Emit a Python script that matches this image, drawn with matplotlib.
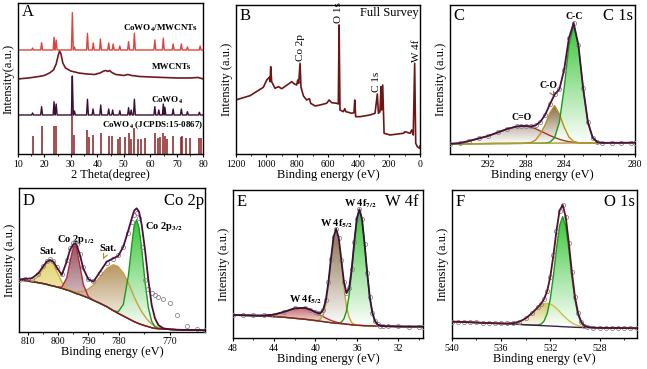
import numpy as np
import matplotlib
matplotlib.use('Agg')
import matplotlib.pyplot as plt
from matplotlib.colors import LinearSegmentedColormap
from matplotlib.path import Path

plt.rcParams['font.family'] = ['Liberation Serif', 'DejaVu Serif']
plt.rcParams['mathtext.fontset'] = 'stix'

# ---------------- A: XRD ----------------
a_cm_base = 104
a_cm_pos = [15.6, 19.0, 23.7, 24.5, 30.6, 31.4, 36.3, 38.5, 41.2, 44.3, 46.0, 48.5, 51.8, 54.0, 61.7, 64.9, 68.6, 71.7, 74.0, 78.8]
a_cm_int = [106, 111.3, 116.7, 114, 141.3, 107, 120.7, 111, 115, 111, 110, 108, 112.3, 120.7, 114, 115.7, 110, 110, 107, 108]

a_mw_x = [10, 14, 18, 20, 22, 23.5, 24.5, 25.3, 25.8, 26.3, 27, 28, 30, 33, 36, 39, 41, 42.5, 43.2, 44, 44.6, 45.5, 47, 50, 51.5, 53, 56, 60, 65, 70, 75, 78, 80]
a_mw_y = [75, 76, 77.5, 78.5, 81, 84, 90, 99, 103, 100, 91, 86, 83, 81, 80, 79.5, 81, 83, 83.5, 82.5, 83.5, 81.5, 79.5, 78.5, 79.5, 78.5, 77.5, 77, 76.5, 76, 76, 76.5, 75]

a_cw_base = 39
a_cw_pos = [15.6, 19.0, 23.7, 24.5, 30.6, 31.4, 36.3, 38.4, 41.3, 44.3, 45.8, 48.5, 51.8, 52.8, 54.0, 61.7, 63.2, 64.9, 65.5, 68.6, 71.7, 74.0, 78.5]
a_cw_int = [41, 47.3, 52.3, 50, 78, 43, 54.7, 45, 49, 45, 44, 43.3, 46.3, 44, 54.7, 47.3, 44, 50, 46.7, 45, 45, 42.3, 41.7]

a_ref_pos = [15.6, 19.0, 23.8, 24.6, 30.6, 31.4, 36.3, 36.8, 38.4, 41.3, 44.3, 45.7, 48.0, 48.7, 50.3, 51.9, 52.6,
             53.9, 55.2, 56.3, 58.1, 61.7, 63.0, 63.7, 64.9, 65.4, 66.2, 68.6, 71.6, 72.0, 73.5, 74.8, 78.5, 79.3]
a_ref_int = [18, 28, 28, 28, 78, 19, 24, 17, 19, 21, 18, 18, 15, 17, 17, 21, 15,
             26, 15, 15, 16, 21, 16, 17, 21, 18, 15, 18, 17, 18, 16, 16, 16, 16]

# ---------------- B: survey ----------------
b_ev = [1200, 1107, 1020, 998, 981, 976, 972, 966, 944, 922, 900, 868, 835, 818, 803, 796, 790, 781, 775, 759,
        738, 720, 712, 683, 651, 608, 592, 575, 542, 532, 527, 521, 499, 490, 482, 445, 430, 425, 419, 391,
        326, 293, 278, 271, 261, 254, 250, 243, 234, 195, 108, 98, 65, 54, 44, 35, 28, 18, 2, 0]
b_int = [54, 58.3, 66.7, 74, 76.7, 72.3, 87.3, 72.3, 65.7, 67.3, 65.3, 68.7, 72.3, 70, 69, 74, 70.7, 90.7, 66.7, 58,
         54, 55.3, 50.7, 48, 49, 50.7, 54, 51.3, 50.7, 50, 129, 44, 42.3, 45.3, 42.3, 40.7, 41.3, 54, 37.3, 37.3,
         39, 40.7, 60, 40.7, 42.3, 67.3, 44, 69, 20.7, 19, 20.7, 22.3, 20.7, 24, 19, 90.7, 10.7, 7.3, 5.7, 8]

# ---------------- C: C 1s ----------------
c_ev = [296, 295, 294, 293, 292, 291, 290, 289, 288.5, 288, 287.5, 287, 286.5, 286, 285.5, 285, 284.5, 284,
        283.5, 283, 282.5, 282, 281.5, 281, 280.5, 280, 279, 278, 277, 276.6]
c_bg = [10.0, 10.1, 10.2, 10.3, 10.4, 10.5, 10.5, 10.6, 10.6, 10.7, 10.7, 10.7, 10.8, 10.8, 10.8, 10.9, 10.9, 10.9,
        11.0, 11.0, 11.0, 11.0, 11.1, 11.1, 11.1, 11.1, 11.2, 11.2, 11.3, 11.3]
c_dbl = [0.2, 0.7, 2.8, 5.2, 7.6, 11.0, 14.5, 16.9, 17.4, 17.1, 16.1, 14.6, 12.2, 10.0, 7.7, 5.6, 3.8, 2.4,
         1.3, 0.6, 0.2, 0, 0, 0, 0, 0, 0, 0, 0, 0]
c_sgl = [0, 0, 0, 0, 0, 0, 0, 0, 0, 0.2, 0.8, 3.3, 9.2, 18.2, 30.2, 37.6, 29.1, 16.1,
         6.0, 1.5, 0.3, 0, 0, 0, 0, 0, 0, 0, 0, 0]
c_cc = [0, 0, 0, 0, 0, 0, 0, 0, 0, 0, 0, 0, 0, 0.1, 1.0, 5.4, 20.9, 54.7,
        97.3, 118.0, 97.3, 54.6, 20.7, 5.2, 0.7, 0, 0, 0, 0, 0]

# ---------------- D: Co 2p ----------------
d_ev = [813.0, 811.0, 808.8, 806.6, 804.9, 803.8, 802.7, 801.6, 800.5, 798.8, 797.2, 796.1, 795.0, 794.4, 793.9,
        792.8, 791.7, 790.0, 788.3, 786.1, 783.9, 781.7, 780.1, 778.4, 776.7, 775.6, 774.8, 774.0, 773.2, 772.3,
        771.2, 770.1, 769.0, 767.9, 766.8, 765.1, 762.9, 760.7, 757.4, 754.1, 751.3]
d_bg = [51.7, 51.0, 50.0, 49.0, 48.0, 47.3, 46.3, 45.7, 44.7, 43.3, 41.7, 40.7, 39.3, 38.7, 38.0,
        37.0, 35.7, 33.7, 31.3, 28.3, 25.0, 21.0, 18.3, 15.7, 13.0, 11.3, 10.0, 9.0, 8.0, 7.0,
        6.0, 5.0, 4.0, 3.3, 3.0, 2.7, 2.3, 2.0, 1.7, 1.7, 1.3]
d_sat1 = [0, 0, 0.8, 6.3, 15.6, 21.8, 24.4, 21.8, 15.6, 6.3, 1.5, 0.4, 0, 0, 0,
          0, 0, 0, 0, 0, 0, 0, 0, 0, 0, 0, 0, 0, 0, 0,
          0, 0, 0, 0, 0, 0, 0, 0, 0, 0, 0]
d_p12 = [0, 0, 0, 0, 0, 0, 0, 0, 0, 1.3, 11.7, 28.9, 45.4, 48.0, 45.4,
         28.9, 11.7, 1.3, 0, 0, 0, 0, 0, 0, 0, 0, 0, 0, 0, 0,
         0, 0, 0, 0, 0, 0, 0, 0, 0, 0, 0]
d_sat2 = [0, 0, 0, 0, 0, 0, 0, 0, 0, 0, 0.2, 0.5, 0.9, 1.1, 1.7,
          2.9, 4.7, 9.0, 15.3, 26.5, 38.2, 45.9, 46.7, 42.9, 35.5, 29.5, 24.7, 20.6, 16.8, 12.9,
          9.0, 5.9, 3.7, 2.3, 1.3, 0.5, 0.1, 0, 0, 0, 0]
d_p32 = [0, 0, 0, 0, 0, 0, 0, 0, 0, 0, 0, 0, 0, 0, 0,
         0, 0, 0, 0, 0, 0, 0, 1.6, 11.5, 43.6, 75.5, 96.0, 102.7, 96.0, 75.5,
         43.6, 19.1, 6.4, 1.6, 0.3, 0, 0, 0, 0, 0, 0]
d_fit = [52.3, 52.7, 53.3, 58.3, 65.7, 70.0, 71.7, 70.0, 64.3, 56.7, 70.0, 81.7, 87.3, 88.3, 86.7,
         76.7, 63.3, 52.3, 50.0, 60.0, 70.0, 73.3, 75.7, 85.0, 101.7, 113.3, 121.0, 123.3, 120.0, 106.7,
         81.7, 51.7, 26.7, 13.3, 6.7, 3.3, 2.3, 2.0, 1.7, 1.7, 1.3]
d_meas = [51.7, 52.3, 53.0, 57.7, 65.7, 70.7, 72.3, 70.3, 64.3, 57.7, 71.7, 83.3, 89.0, 89.7, 87.7,
          77.7, 64.3, 53.0, 51.0, 58.3, 69.0, 72.3, 76.7, 85.0, 98.3, 110.0, 116.7, 118.3, 113.3, 85.0,
          51.7, 42.3, 39.0, 36.7, 34.3, 32.3, 29.0, 16.7, 5.7, 2.7, 1.7]

# ---------------- E: W 4f ----------------
e_ev = [48, 47, 46, 45, 44, 43, 42, 41, 40.5, 40, 39.75, 39.5, 39.25, 39, 38.75, 38.5, 38.25, 38, 37.75, 37.5,
        37.25, 37, 36.75, 36.5, 36.25, 36, 35.75, 35.5, 35.25, 35, 34.75, 34.5, 34.25, 34, 33.75, 33.5,
        33, 32, 31, 30, 29.6]
e_bg = [23.3, 23.0, 22.7, 22.3, 21.7, 21.0, 20.0, 19.0, 18.4, 17.7, 17.4, 17.0, 16.7, 16.3, 16.0, 15.6, 15.3, 15.0,
        14.8, 14.5, 14.3, 14.0, 13.8, 13.5, 13.3, 13.0, 12.9, 12.8, 12.6, 12.5, 12.4, 12.4, 12.3, 12.2, 12.2, 12.1,
        12.0, 11.8, 11.7, 11.7, 11.7]
e_broad = [0, 0, 0.1, 0.5, 2.0, 5.6, 10.0, 11.4, 10.3, 8.4, 7.2, 6.0, 4.9, 3.9, 3.0, 2.3, 1.7, 1.2, 0.8, 0.5,
           0.35, 0.2, 0.1, 0, 0, 0, 0, 0, 0, 0, 0, 0, 0, 0, 0, 0, 0, 0, 0, 0, 0]
e_f52 = [0, 0, 0, 0, 0, 0, 0, 0, 0, 0.1, 0.6, 2.2, 7.1, 17.8, 36.9, 61.8, 84.2, 93.3, 84.2, 61.8,
         36.9, 17.8, 7.1, 2.2, 0.6, 0.1, 0, 0, 0, 0, 0, 0, 0, 0, 0, 0, 0, 0, 0, 0, 0]
e_f72 = [0, 0, 0, 0, 0, 0, 0, 0, 0, 0, 0, 0, 0, 0, 0, 0, 0, 0, 0.5, 1.6,
         5.1, 13.2, 28.9, 53.1, 82.0, 106.4, 116.0, 106.4, 82.0, 53.1, 28.9, 13.2, 5.1, 1.6, 0.5, 0.1,
         0, 0, 0, 0, 0]

# ---------------- F: O 1s ----------------
f_ev = [540, 539.5, 539, 538.5, 538, 537.5, 537, 536.5, 536, 535.5, 535, 534.5, 534, 533.5,
        533, 532.75, 532.5, 532.25, 532, 531.75, 531.5, 531.25, 531, 530.75, 530.5, 530.25, 530, 529.75, 529.5,
        529.25, 529, 528.5, 528, 527.5, 527, 526.5, 526, 525.5, 525]
f_bg = [16.7, 16.5, 16.3, 16.0, 15.8, 15.5, 15.3, 15.0, 14.8, 14.5, 14.2, 13.9, 13.5, 13.2,
        12.9, 12.7, 12.6, 12.4, 12.3, 12.1, 12.0, 11.8, 11.6, 11.5, 11.3, 11.2, 11.0, 10.9, 10.8,
        10.7, 10.7, 10.6, 10.5, 10.4, 10.3, 10.3, 10.2, 10.1, 10.0]
f_hyd = [0, 0, 0, 0, 0, 0, 0, 0, 0.1, 0.3, 1.0, 2.8, 6.4, 11.8,
         17.9, 20.4, 22.0, 22.6, 22.0, 20.4, 17.9, 15.0, 11.8, 8.9, 6.4, 4.3, 2.8, 1.7, 1.0,
         0.5, 0.3, 0.1, 0, 0, 0, 0, 0, 0, 0]
f_lat = [0, 0, 0, 0, 0, 0, 0, 0, 0, 0, 0, 0, 0, 0,
         0.4, 1.5, 4.8, 12.5, 27.4, 50.4, 77.8, 100.9, 110.0, 100.9, 77.8, 50.4, 27.4, 12.5, 4.8,
         1.5, 0.4, 0, 0, 0, 0, 0, 0, 0, 0]

GREEN_L, GREEN_F = '#1a9a1a', '#22c022'


def grad_fill(ax, x, lo, hi, color, z=1):
    x = np.asarray(x, float)
    verts = np.vstack([np.column_stack([x, hi]), np.column_stack([x[::-1], lo[::-1]])])
    cmap = LinearSegmentedColormap.from_list('g', ['white', color])
    im = ax.imshow(np.linspace(0, 1, 128).reshape(-1, 1), cmap=cmap, origin='lower', aspect='auto',
                   extent=[x.min(), x.max(), lo.min(), hi.max()], zorder=z, alpha=0.9)
    im.set_clip_path(Path(verts), ax.transData)


def xps(ax, ev, bg, comps, bgcol, fitcol, fit=None, meas=None):
    bg = np.asarray(bg, float)
    total = bg.copy()
    for i, (h, lc, fc) in enumerate(comps):
        top = bg + np.asarray(h, float)
        total = total + np.asarray(h, float)
        grad_fill(ax, ev, bg, top, fc, z=1 + i * 0.1)
        ax.plot(ev, top, color=lc, lw=1.0, zorder=3)
    ax.plot(ev, bg, color=bgcol, lw=1.0, zorder=3)
    if fit is None:
        fit = total
    if meas is None:
        meas = fit
    ax.plot(ev, meas, 'o', mfc='none', mec='#8a8a8a', ms=3, mew=0.6, zorder=4)
    ax.plot(ev, fit, color=fitcol, lw=1.3, zorder=5)


def style(ax, xlim, ylim, ticks, labels=None, minor=None, xlabel='Binding energy (eV)',
          ylabel='Intensity (a.u.)'):
    ax.set_xlim(*xlim)
    ax.set_ylim(*ylim)
    ax.set_yticks([])
    ax.set_xticks(ticks)
    if labels is not None:
        ax.set_xticklabels(labels)
    if minor is not None:
        ax.set_xticks(minor, minor=True)
    ax.tick_params(axis='x', which='major', direction='out', length=2.5, width=0.8, labelsize=7, pad=1.5)
    ax.tick_params(axis='x', which='minor', direction='out', length=1.5, width=0.6)
    for s in ax.spines.values():
        s.set_linewidth(1.0)
    ax.set_xlabel(xlabel, fontsize=9, labelpad=0)
    ax.set_ylabel(ylabel, fontsize=9, labelpad=2)


def spikes(base, pos, inten, w=0.35):
    xs, ys = [10], [base]
    for p, t in zip(pos, inten):
        xs += [p - w, p, p + w]
        ys += [base, t, base]
    xs.append(80)
    ys.append(base)
    return xs, ys


fig = plt.figure(figsize=(6.47, 3.69), dpi=100)
axA = fig.add_axes([0.0274, 0.5827, 0.2869, 0.4092])
axB = fig.add_axes([0.3643, 0.5827, 0.2849, 0.4038])
axC = fig.add_axes([0.6955, 0.5827, 0.2852, 0.4038])
axD = fig.add_axes([0.0294, 0.1011, 0.2875, 0.3886])
axE = fig.add_axes([0.3597, 0.0832, 0.2941, 0.4019])
axF = fig.add_axes([0.6981, 0.0832, 0.2859, 0.4019])

bold = dict(fontsize=6.5, fontweight='bold')

# A
axA.vlines(a_ref_pos, 0, a_ref_int, color='#8a1e22', lw=1.1)
x, y = spikes(a_cw_base, a_cw_pos, a_cw_int)
axA.plot(x, y, color='#3a0f32', lw=1.0)
axA.plot(a_mw_x, a_mw_y, color='#6e1a1e', lw=1.2)
x, y = spikes(a_cm_base, a_cm_pos, a_cm_int)
axA.plot(x, y, color='#dc4440', lw=1.0)
axA.text(78.0, 126, r'CoWO$_\mathbf{4}$/MWCNTs', ha='right', va='center', **bold)
axA.text(67.8, 87, 'MWCNTs', ha='center', va='center', **bold)
axA.text(66.3, 54, r'CoWO$_\mathbf{4}$', ha='center', va='center', **bold)
axA.text(79.9, 29, r'CoWO$_\mathbf{4}$ (JCPDS:15-0867)', ha='right', va='center', **bold)
style(axA, (10, 80), (0, 151), list(range(10, 81, 10)), minor=list(range(15, 80, 10)),
      xlabel='2 Theta(degree)', ylabel='Intensity(a.u.)')

# B
axB.plot(b_ev, b_int, color='#6e1616', lw=1.2)
for lab, xx, yy in [('Co 2p', 781, 93), ('O 1s', 532, 131), ('C 1s', 282, 62), ('W 4f', 26, 92)]:
    axB.text(xx, yy, lab, rotation=90, ha='center', va='bottom', fontsize=8)
axB.text(0.995, 0.985, 'Full Survey', transform=axB.transAxes, ha='right', va='top', fontsize=9)
style(axB, (1200, 0), (0, 149), list(range(1200, -1, -200)), minor=list(range(1100, 0, -200)))

# C
xps(axC, c_ev, c_bg, [(c_dbl, '#9c3a2c', '#b8ab98'), (c_sgl, '#b8901a', '#7a5a36'), (c_cc, GREEN_L, GREEN_F)],
    '#b09a30', '#4a1040')
axC.text(282.9, 137, 'C-C', ha='center', va='center', fontsize=7, fontweight='bold')
axC.annotate('C-O', xy=(284.9, 55), xytext=(285.65, 68), ha='center', va='center', fontsize=7,
             fontweight='bold', arrowprops=dict(arrowstyle='->', color='#a0602a', lw=0.8))
axC.text(288.45, 36, 'C=O', ha='center', va='center', fontsize=7, fontweight='bold')
style(axC, (296, 276.6), (0, 149), [292, 288, 284, 276.6], ['292', '288', '284', '280'],
      minor=[294, 290, 286, 282, 280.2, 278.3])

# D
xps(axD, d_ev, d_bg, [(d_sat2, '#c8a040', '#b08a50'), (d_sat1, '#d0b030', '#e0d060'),
                      (d_p12, '#b02a3a', '#8a4050'), (d_p32, GREEN_L, GREEN_F)],
    '#7a1c2a', '#4e0e3a', fit=d_fit, meas=d_meas)
axD.text(803.3, 80, 'Sat.', ha='center', va='center', fontsize=7.5, fontweight='bold')
axD.text(794.1, 92.4, r'Co 2p$_\mathbf{1/2}$', ha='center', va='center', fontsize=7.5, fontweight='bold')
axD.annotate('Sat.', xy=(785.5, 70), xytext=(783.4, 83.4), ha='center', va='center', fontsize=7.5,
             fontweight='bold', arrowprops=dict(arrowstyle='->', color='#b08a30', lw=0.8))
axD.text(771.2, 105, r'Co 2p$_\mathbf{3/2}$', ha='left', va='center', fontsize=7.5, fontweight='bold')
style(axD, (813.0, 751.3), (0, 143.3), [810, 800, 790, 780, 762.9], ['810', '800', '790', '780', '770'],
      minor=[805, 795, 785, 771.5])

# E
xps(axE, e_ev, e_bg, [(e_broad, '#c02a2a', '#c86060'), (e_f52, '#c8a030', '#7a6038'), (e_f72, GREEN_L, GREEN_F)],
    '#8a1c2a', '#3a0f3a')
axE.text(35.68, 135, r'W 4f$_\mathbf{7/2}$', ha='center', va='center', fontsize=7.5, fontweight='bold')
axE.text(37.93, 115, r'W 4f$_\mathbf{5/2}$', ha='center', va='center', fontsize=7.5, fontweight='bold')
axE.text(41.0, 39, r'W 4f$_\mathbf{5/2}$', ha='center', va='center', fontsize=7.5, fontweight='bold')
style(axE, (48, 29.6), (0, 148.3), [48, 44, 40, 36, 32], minor=[46, 42, 38, 34, 30])

# F
xps(axF, f_ev, f_bg, [(f_hyd, '#d0c040', '#c8c050'), (f_lat, GREEN_L, GREEN_F)], '#3a2050', '#5a1030')
style(axF, (540, 525), (0, 148.3), [540, 536, 532, 528], minor=[538, 534, 530, 526])

# panel letters and titles
for ax, letter, yy in [(axA, 'A', 0.99), (axB, 'B', 0.98), (axC, 'C', 0.98),
                       (axD, 'D', 0.97), (axE, 'E', 0.97), (axF, 'F', 0.97)]:
    ax.text(0.02, yy, letter, transform=ax.transAxes, ha='left', va='top', fontsize=12)
for ax, title, xx, yy in [(axC, 'C 1s', 0.99, 0.98), (axD, 'Co 2p', 0.995, 0.97),
                          (axE, 'W 4f', 0.975, 0.97), (axF, 'O 1s', 0.99, 0.97)]:
    ax.text(xx, yy, title, transform=ax.transAxes, ha='right', va='top', fontsize=12)

fig.savefig('out.png', dpi=100)
